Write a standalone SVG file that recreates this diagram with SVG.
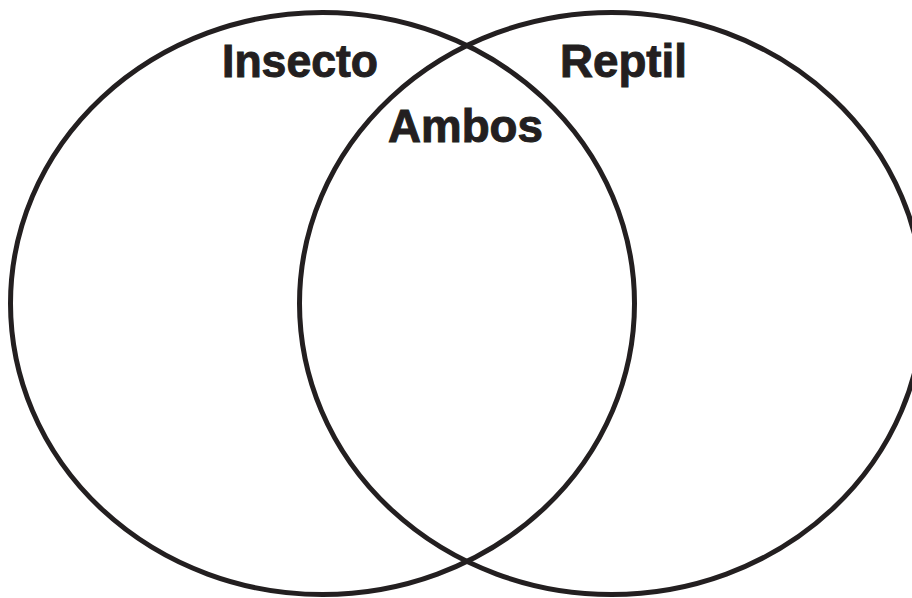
<svg xmlns="http://www.w3.org/2000/svg" width="912" height="598" viewBox="0 0 912 598">
<style>
.c{fill:none;stroke:#231f20;stroke-width:5}
.t{font-family:"Liberation Sans",Arial,sans-serif;font-weight:bold;font-size:47px;fill:#231f20;stroke:#231f20;stroke-width:1}
</style>
<rect width="912" height="598" fill="#fff"/>
<g id="connectors"></g>
<g id="insecto">
<ellipse class="c" cx="322.5" cy="303.5" rx="312" ry="291"/>
<text class="t" x="222" y="77" textLength="156" lengthAdjust="spacingAndGlyphs">Insecto</text>
</g>
<g id="reptil">
<ellipse class="c" cx="611.5" cy="303.5" rx="312" ry="291"/>
<text class="t" x="560" y="77" textLength="127" lengthAdjust="spacingAndGlyphs">Reptil</text>
</g>
<g id="ambos">
<text class="t" x="388" y="142" textLength="155" lengthAdjust="spacingAndGlyphs">Ambos</text>
</g>
</svg>
